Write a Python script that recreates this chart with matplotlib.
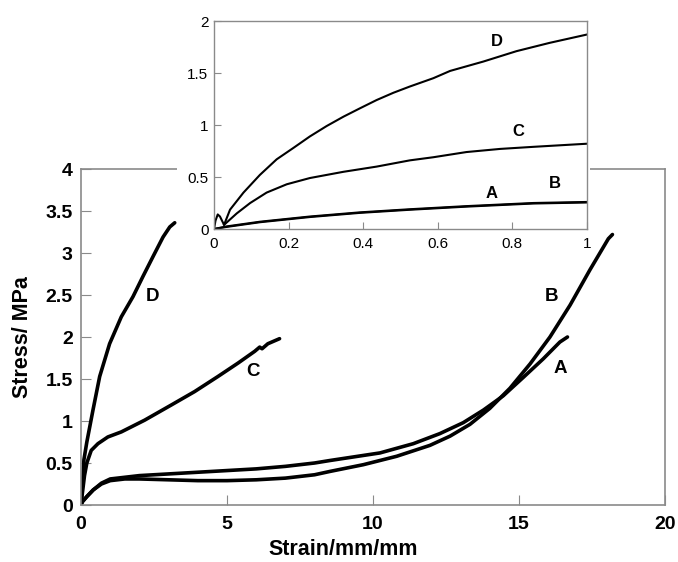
import numpy as np
import matplotlib
matplotlib.use("Agg")
from matplotlib import pyplot as plt
from matplotlib.patches import Rectangle

plt.rcParams['font.family'] = ['Liberation Sans', 'DejaVu Sans']

# main chart: stress vs strain
a_x = [0, 0.05, 0.2, 0.42, 0.7, 1.0, 1.5, 2, 3, 4, 5, 6, 7, 8, 8.53, 9.1, 10.24, 11.38, 12.29,
       13.09, 13.78, 14.46, 15.15, 15.83, 16.4, 16.66]
a_y = [0, 0.04, 0.1, 0.18, 0.26, 0.31, 0.33, 0.35, 0.37, 0.39, 0.41, 0.43, 0.46, 0.5, 0.53, 0.56,
       0.62, 0.73, 0.85, 0.98, 1.13, 1.30, 1.52, 1.74, 1.94, 2.0]

b_x = [0, 0.05, 0.2, 0.42, 0.7, 1.0, 1.5, 2, 3, 4, 5, 6, 7, 8, 8.53, 9.67, 10.81, 11.95, 12.64,
       13.32, 14.0, 14.69, 15.38, 16.06, 16.75, 17.43, 18.06, 18.2]
b_y = [0, 0.04, 0.1, 0.18, 0.25, 0.29, 0.31, 0.31, 0.30, 0.29, 0.29, 0.30, 0.32, 0.36, 0.40, 0.48,
       0.58, 0.71, 0.82, 0.96, 1.15, 1.39, 1.68, 2.0, 2.38, 2.80, 3.17, 3.22]

c_x = [0, 0.05, 0.12, 0.2, 0.35, 0.58, 0.92, 1.38, 2.18, 3.09, 3.89, 4.69, 5.38, 5.95, 6.12, 6.2,
       6.4, 6.8]
c_y = [0, 0.15, 0.35, 0.5, 0.65, 0.73, 0.81, 0.87, 1.01, 1.19, 1.35, 1.53, 1.69, 1.83, 1.88, 1.86,
       1.92, 1.98]

d_x = [0, 0.04, 0.1, 0.2, 0.41, 0.64, 0.98, 1.38, 1.78, 2.12, 2.47, 2.81, 3.04, 3.21]
d_y = [0, 0.2, 0.54, 0.75, 1.13, 1.53, 1.92, 2.24, 2.48, 2.72, 2.96, 3.19, 3.31, 3.36]

# inset: first 1 mm/mm of strain
ins_d_x = [0, 0.004, 0.01, 0.016, 0.027, 0.043, 0.079, 0.123, 0.168, 0.213, 0.257, 0.302, 0.347,
           0.391, 0.436, 0.481, 0.525, 0.588, 0.633, 0.722, 0.811, 0.9, 1.0]
ins_d_y = [0, 0.08, 0.14, 0.12, 0.04, 0.186, 0.35, 0.52, 0.67, 0.78, 0.89, 0.99, 1.08,
           1.16, 1.24, 1.31, 1.37, 1.45, 1.52, 1.61, 1.71, 1.79, 1.87]

ins_c_x = [0.027, 0.061, 0.097, 0.141, 0.195, 0.257, 0.347, 0.436, 0.525, 0.588, 0.677, 0.767,
           0.856, 1.0]
ins_c_y = [0.04, 0.15, 0.25, 0.35, 0.43, 0.49, 0.55, 0.60, 0.66, 0.69, 0.74, 0.77, 0.79, 0.82]

ins_ab_x = [0, 0.034, 0.123, 0.257, 0.391, 0.525, 0.677, 0.856, 1.0]
ins_a_y = [0, 0.025, 0.07, 0.12, 0.16, 0.19, 0.22, 0.25, 0.26]
ins_b_y = [0, 0.02, 0.065, 0.115, 0.155, 0.185, 0.215, 0.245, 0.255]

spine_col = '#8a8a8a'

fig = plt.figure(figsize=(6.78, 5.62), dpi=100)
ax = fig.add_axes([81 / 678, 1 - 505 / 562, 584 / 678, 336 / 562])
ax.set_zorder(0)

for xs, ys in [(a_x, a_y), (b_x, b_y), (c_x, c_y), (d_x, d_y)]:
    ax.plot(xs, ys, color='black', lw=2.6, solid_capstyle='round', solid_joinstyle='round')

ax.set_xlim(0, 20)
ax.set_ylim(0, 4)
ax.set_xticks([0, 5, 10, 15, 20])
ax.set_yticks([0, 0.5, 1, 1.5, 2, 2.5, 3, 3.5, 4])
ax.set_yticklabels(['0', '0.5', '1', '1.5', '2', '2.5', '3', '3.5', '4'])
ax.tick_params(direction='in', length=7, color=spine_col, labelsize=14)
ax.tick_params(axis='x', pad=8)
ax.tick_params(axis='y', pad=6)
for lab in ax.get_xticklabels() + ax.get_yticklabels():
    lab.set_fontweight('bold')
for sp in ax.spines.values():
    sp.set_color(spine_col)
    sp.set_linewidth(1.2)
ax.set_xlabel('Strain/mm/mm', fontsize=15.5, fontweight='bold', va='center')
ax.xaxis.set_label_coords(0.449, -0.131)
ax.set_ylabel('Stress/ MPa', fontsize=15.5, fontweight='bold', va='center')
ax.yaxis.set_label_coords(-0.101, 0.5)

for txt, x, y in [('D', 2.45, 2.48), ('C', 5.9, 1.59), ('B', 16.12, 2.48), ('A', 16.4, 1.63)]:
    ax.text(x, y, txt, fontsize=13.5, fontweight='bold', ha='center', va='center')

# white block behind the inset, hides the main frame there
fig.add_artist(Rectangle((177 / 678, 1 - 250 / 562), 413 / 678, 250 / 562,
                         transform=fig.transFigure, facecolor='white',
                         edgecolor='none', zorder=1))

ins = fig.add_axes([214 / 678, 1 - 229 / 562, 373 / 678, 208 / 562])
ins.set_zorder(2)
ins.plot(ins_d_x, ins_d_y, color='black', lw=1.5, solid_joinstyle='round')
ins.plot(ins_c_x, ins_c_y, color='black', lw=1.5, solid_joinstyle='round')
ins.plot(ins_ab_x, ins_a_y, color='black', lw=1.5, solid_joinstyle='round')
ins.plot(ins_ab_x, ins_b_y, color='black', lw=1.5, solid_joinstyle='round')
ins.set_xlim(0, 1)
ins.set_ylim(0, 2)
ins.set_xticks([0, 0.2, 0.4, 0.6, 0.8, 1])
ins.set_xticklabels(['0', '0.2', '0.4', '0.6', '0.8', '1'])
ins.set_yticks([0, 0.5, 1, 1.5, 2])
ins.set_yticklabels(['0', '0.5', '1', '1.5', '2'])
ins.tick_params(direction='in', length=5, color=spine_col, labelsize=11)
ins.tick_params(axis='x', pad=6)
ins.tick_params(axis='y', pad=4)
for sp in ins.spines.values():
    sp.set_color(spine_col)
    sp.set_linewidth(1.0)

for txt, x, y in [('D', 0.758, 1.80), ('C', 0.816, 0.94), ('A', 0.745, 0.345), ('B', 0.915, 0.44)]:
    ins.text(x, y, txt, fontsize=12, fontweight='bold', ha='center', va='center')

fig.savefig('out.png', dpi=100)
